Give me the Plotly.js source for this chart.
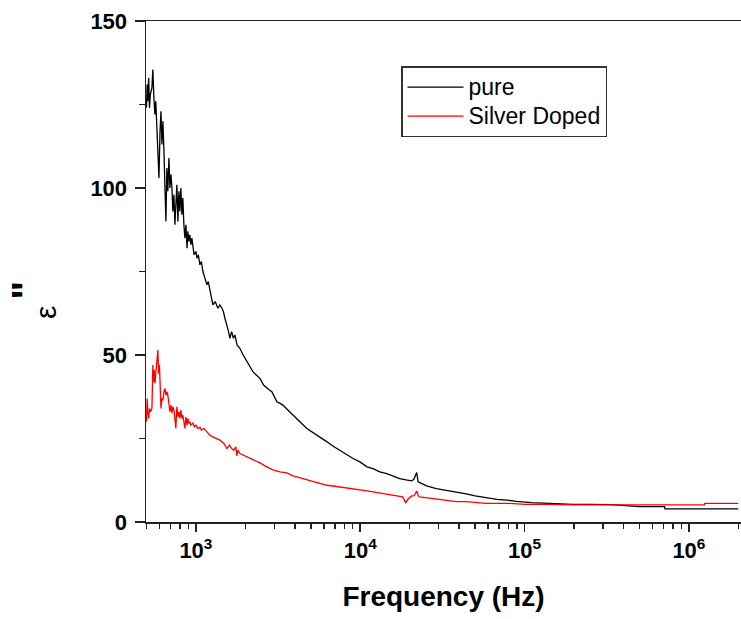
<!DOCTYPE html>
<html>
<head>
<meta charset="utf-8">
<script src="https://cdn.plot.ly/plotly-3.0.1.min.js"></script>
<style>html,body{margin:0;padding:0;background:#fff;}#chart{width:741px;height:619px;}</style>
</head>
<body>
<div id="chart"></div>
<script>
// ---- Data (frequency in Hz, ε'' values) ----
const pureFreq = [500,505,510,516,522,528,540,547,555,563,570,579,587,596,605,613,621,630,639,648,657,666,675,685,695,705,715,724,735,745,755,766,777,788,799,810,822,833,845,857,870,883,894,906,919,932,945,959,975,1000,1014,1035,1058,1080,1103,1135,1167,1190,1217,1245,1269,1310,1361,1400,1440,1470,1502,1545,1580,1610,1650,1690,1727,1780,1852,1940,2042,2130,2222,2330,2452,2580,2703,2800,2899,3000,3110,3250,3384,3550,3735,3900,4118,4400,4735,5100,5447,5850,6278,6700,7235,7800,8338,9037,9966,10990,11940,13160,14510,15780,17390,19000,20550,21200,22060,22500,23000,25370,29000,33530,38480,44170,50000,58240,68000,80710,89130,110000,141800,196300,250000,339000,500000,711000,715000,1000000,2000000];
const pureVal = [124,131,126,133,124,128,130,135.5,127,122,126,118,111,103,117,123,113,120,111,103,90,106,99,109,100,104,100,93,98,89,96,101,90,99,93,100,92,97,89,85,89,82,87,84,86,83,85,82,80,81,79,80,77,78,75,73,71,72,69,67,65,66,64,65,64,63,61,59,57,55,57,55,56,53,52,50,48,46.5,45,44,43,41,40,39.5,39,37.5,36,35.5,35,34,33,32,31,29.5,28,27,26,25,24,23,22,21,20,19,18,16.5,16,15,14.5,13.8,13,12.6,12.3,12.8,14.8,12.0,11.8,10.8,10,9.5,9.0,8.4,7.8,7.2,6.8,6.5,6.2,5.8,5.5,5.3,5.3,5.2,4.6,4.6,3.9,3.9,3.9];

const dopedFreq = [500,505,510,516,522,530,540,547,552,558,563,570,579,587,593,600,607,613,621,630,639,648,657,666,675,685,695,705,715,724,735,745,755,766,777,788,799,810,822,833,845,857,870,883,894,906,919,932,959,980,1000,1030,1058,1080,1120,1167,1217,1269,1330,1400,1480,1545,1600,1650,1700,1750,1776,1800,1852,1950,2042,2222,2452,2700,2941,3250,3578,3900,4297,4700,5148,5700,6278,7000,7543,8338,9037,9966,10990,11940,13160,14510,15780,17390,18130,18900,19500,20550,21300,22060,22600,23000,25370,33530,38480,44170,58240,80710,101000,141800,196300,340000,700000,1240000,1250000,2000000];
const dopedVal = [30,37,33,31,34,33,34,47,42,45.5,41.5,44,48,51.5,44.5,47,40,34,37,36.5,39,40,38,39,38,35,33,35,32.6,34.5,33.5,31,28,34.5,31.5,33,31,33.5,31,32,30,28,31.5,29,31,29.5,30,29,29.6,28.5,29,28,28.4,27.5,28,27,26,25.5,25,24.5,23.5,22,23,22,21.5,22.5,19.8,21.5,20.5,20,19.5,18.5,17.7,16.5,15.6,15,14.7,13.8,13.2,12.6,12,11.5,11,10.7,10.5,10.1,9.9,9.6,9.3,9.0,8.7,8.4,8.1,7.8,7.5,5.8,6.8,7.8,7.9,9.3,7.8,7.5,7.2,6.3,6.1,6.1,5.6,5.6,5.3,5.3,5.1,5.1,5.1,5.1,5.6,5.6];

const seriesNames = ['pure', 'Silver Doped'];
const xTickVals = [1e3, 1e4, 1e5, 1e6];
const xTickText = ['10<sup>3</sup>', '10<sup>4</sup>', '10<sup>5</sup>', '10<sup>6</sup>'];
const yTickVals = [0, 50, 100, 150];
const yMinorVals = [25, 75, 125];

// minor tick positions on the log axis (2..9 of each decade)
const xMinorVals = [];
for (let d = 100; d <= 1e6; d *= 10) {
  for (let k = 2; k <= 9; k++) xMinorVals.push(k * d);
}

const legendName = s => '<span style="font-size:23px">' + s + '</span>';

const traces = [
  {x: pureFreq, y: pureVal, name: legendName(seriesNames[0]), type: 'scatter', mode: 'lines',
   line: {color: '#000000', width: 1.3}},
  {x: dopedFreq, y: dopedVal, name: legendName(seriesNames[1]), type: 'scatter', mode: 'lines',
   line: {color: '#ff0000', width: 1.3}}
];

const axisColor = '#222222';
const layout = {
  width: 741, height: 619, autosize: false,
  margin: {l: 146, r: 0, t: 21, b: 97, pad: 0},
  paper_bgcolor: '#ffffff', plot_bgcolor: '#ffffff',
  font: {family: 'Liberation Sans, Arial, sans-serif', color: '#000'},
  showlegend: true,
  legend: {
    x: 0.4286, y: 0.910, xanchor: 'left', yanchor: 'top',
    bordercolor: '#333333', borderwidth: 1.5, bgcolor: '#ffffff',
    font: {family: 'Liberation Sans, Arial, sans-serif', size: 20, color: '#000'},
    itemwidth: 56,
    tracegroupgap: 0
  },
  xaxis: {
    type: 'log',
    range: [Math.log10(497), Math.log10(2.075e6)],
    tickmode: 'array', tickvals: xTickVals, ticktext: xTickText,
    ticks: 'outside', ticklen: 8, tickwidth: 1.5, tickcolor: axisColor,
    minor: {tickmode: 'array', tickvals: xMinorVals, ticks: 'outside', ticklen: 5, tickwidth: 1.5, tickcolor: axisColor},
    showline: true, linecolor: axisColor, linewidth: 1.5, mirror: true,
    showgrid: false, zeroline: false,
    tickfont: {family: 'Liberation Sans, Arial, sans-serif', size: 22, color: '#000', weight: 'bold'},
    title: {text: '<b>Frequency (Hz)</b>', font: {family: 'Liberation Sans, Arial, sans-serif', size: 28, color: '#000'}, standoff: 24}
  },
  yaxis: {
    range: [0, 150],
    tickmode: 'array', tickvals: yTickVals,
    ticks: 'outside', ticklen: 10, tickwidth: 1.5, tickcolor: axisColor,
    ticklabelstandoff: 3,
    minor: {tickmode: 'array', tickvals: yMinorVals, ticks: 'outside', ticklen: 6, tickwidth: 1.5, tickcolor: axisColor},
    showline: true, linecolor: axisColor, linewidth: 1.5, mirror: false,
    showgrid: false, zeroline: false,
    tickfont: {family: 'Liberation Sans, Arial, sans-serif', size: 22, color: '#000', weight: 'bold'}
  },
  annotations: [
    {text: 'ε', xref: 'paper', yref: 'paper', x: -0.17, y: 0.419, textangle: -90,
     showarrow: false, xanchor: 'center', yanchor: 'middle',
     font: {family: 'Liberation Sans, Arial, sans-serif', size: 30, color: '#000'}},
    {text: '<b>"</b>', xref: 'paper', yref: 'paper', x: -0.202, y: 0.463, textangle: -90,
     showarrow: false, xanchor: 'center', yanchor: 'middle',
     font: {family: 'Liberation Sans, Arial, sans-serif', size: 40, color: '#000'}}
  ]
};

Plotly.newPlot('chart', traces, layout, {staticPlot: true, displayModeBar: false});
</script>
</body>
</html>
